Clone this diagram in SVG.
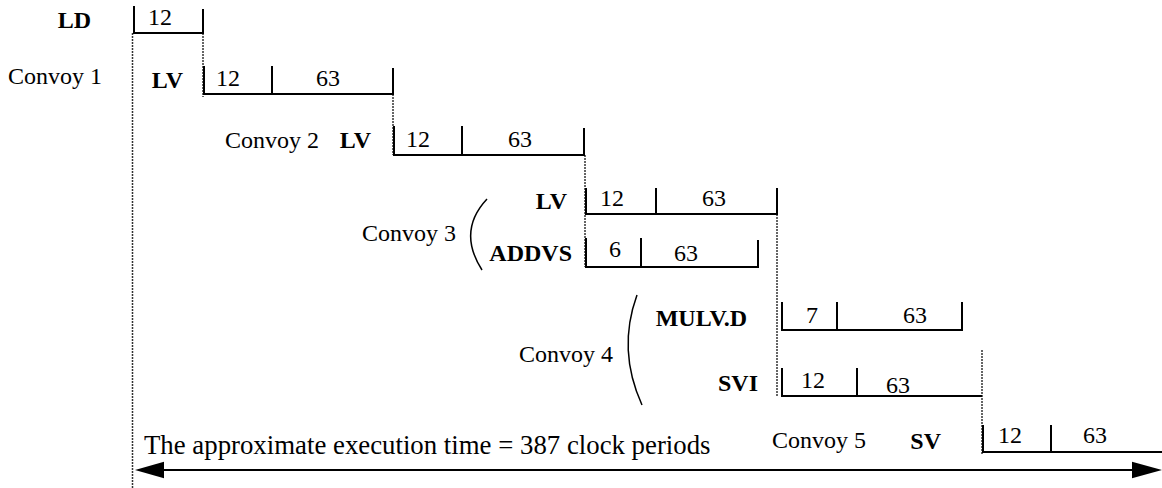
<svg xmlns="http://www.w3.org/2000/svg" width="1162" height="488" viewBox="0 0 1162 488">
<style>
text{font-family:"Liberation Serif","Times New Roman",serif;font-size:24px;fill:#000}
.b{font-weight:bold;text-anchor:end}
.c{text-anchor:middle}
.big{font-size:26.8px}
.box{fill:none;stroke:#000;stroke-width:2}
.dot{fill:none;stroke:#333;stroke-width:1.5;stroke-dasharray:2 1}
.par{fill:none;stroke:#000;stroke-width:1.5}
</style>
<rect width="1162" height="488" fill="#fff"/>
<g id="connectors">
<path class="dot" d="M132.5,33V488M203,33V97M393,94V155M585,155V267M777,214V397M982,350V455"/>
<line x1="160" y1="470" x2="1136" y2="470" stroke="#000" stroke-width="2"/>
<polygon points="135,470 164,461.7 164,478.3" fill="#000"/>
<polygon points="1162,470 1132,461.7 1132,478.3" fill="#000"/>
</g>
<g id="ld">
<text class="b" x="91" y="28">LD</text>
<path class="box" d="M134,6V33H203V9"/>
<text class="c" x="160" y="25">12</text>
</g>
<g id="convoy1">
<text x="8" y="84">Convoy 1</text>
<text class="b" x="183" y="88">LV</text>
<path class="box" d="M204,66V94H393V68M272,66V94"/>
<text class="c" x="228" y="86">12</text>
<text class="c" x="328" y="86">63</text>
</g>
<g id="convoy2">
<text x="225" y="148">Convoy 2</text>
<text class="b" x="371" y="148">LV</text>
<path class="box" d="M394,126V155H584V128M462,126V155"/>
<text class="c" x="418" y="147">12</text>
<text class="c" x="520" y="147">63</text>
</g>
<g id="convoy3">
<text x="362" y="241">Convoy 3</text>
<path class="par" d="M487,199Q457,231 482,270"/>
<text class="b" x="567" y="209">LV</text>
<path class="box" d="M586,188V214H777V188M656,188V214"/>
<text class="c" x="612" y="206">12</text>
<text class="c" x="714" y="206">63</text>
<text class="b" x="572" y="261">ADDVS</text>
<path class="box" d="M586,238V267H758V240M641,238V267"/>
<text class="c" x="615" y="257">6</text>
<text class="c" x="686" y="261">63</text>
</g>
<g id="convoy4">
<text x="519" y="362">Convoy 4</text>
<path class="par" d="M637,295Q617,350 642,405"/>
<text class="b" x="747" y="326">MULV.D</text>
<path class="box" d="M782,302V330H962V302M837,302V330"/>
<text class="c" x="812" y="323">7</text>
<text class="c" x="915" y="323">63</text>
<text class="b" x="758" y="391">SVI</text>
<path class="box" d="M782,368V396H982M857,368V396"/>
<text class="c" x="813" y="388">12</text>
<text class="c" x="898" y="393">63</text>
</g>
<g id="convoy5">
<text x="772" y="448">Convoy 5</text>
<text class="b" x="941" y="449">SV</text>
<path class="box" d="M983,425V452H1162M1051,425V452"/>
<text class="c" x="1010" y="443">12</text>
<text class="c" x="1095" y="443">63</text>
</g>
<g id="caption">
<text class="big" x="144" y="454">The approximate execution time = 387 clock periods</text>
</g>
</svg>
